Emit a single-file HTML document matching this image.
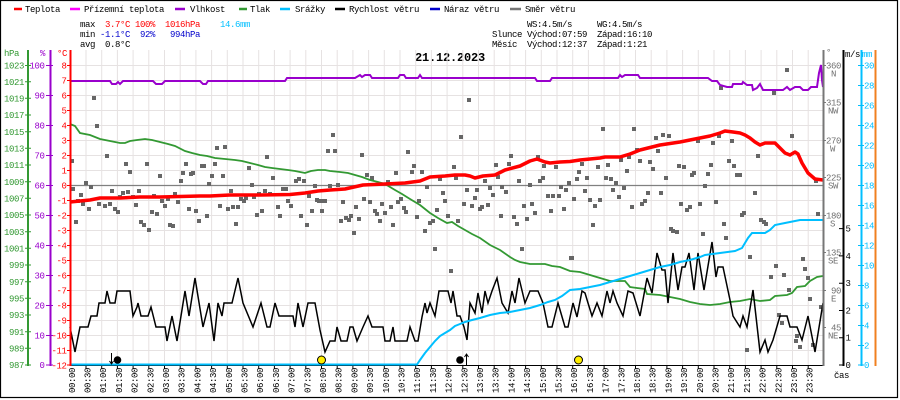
<!DOCTYPE html>
<html><head><meta charset="utf-8"><style>
html,body{margin:0;padding:0;background:#fff;}
svg{display:block;}
text{font-family:"Liberation Mono",monospace;font-size:9px;letter-spacing:-0.4px;}
</style></head><body>
<svg width="900" height="400" viewBox="0 0 900 400" xmlns="http://www.w3.org/2000/svg">
<rect x="0" y="0" width="900" height="400" fill="#fff"/>
<rect x="0.5" y="0.5" width="897" height="397" fill="none" stroke="#000" stroke-width="1.2"/>

<!-- legend -->
<g stroke-width="2.5">
<line x1="14" y1="9" x2="22" y2="9" stroke="#f00"/>
<line x1="70" y1="9" x2="80" y2="9" stroke="#f0f"/>
<line x1="175" y1="9" x2="185" y2="9" stroke="#9900cc"/>
<line x1="239" y1="9" x2="247" y2="9" stroke="#339933"/>
<line x1="280" y1="9" x2="290" y2="9" stroke="#00bfff"/>
<line x1="335" y1="9" x2="345" y2="9" stroke="#000"/>
<line x1="430" y1="9" x2="440" y2="9" stroke="#0000cc"/>
<line x1="510" y1="9" x2="521" y2="9" stroke="#777"/>
</g>
<g fill="#000">
<text x="25" y="12">Teplota</text>
<text x="84" y="12">Přízemní teplota</text>
<text x="190" y="12">Vlhkost</text>
<text x="250" y="12">Tlak</text>
<text x="295" y="12">Srážky</text>
<text x="349" y="12">Rychlost větru</text>
<text x="444" y="12">Náraz větru</text>
<text x="525" y="12">Směr větru</text>
</g>

<!-- stats -->
<text x="80" y="27">max</text>
<text x="105" y="27" fill="#f00">3.7°C</text>
<text x="135" y="27" fill="#f00">100%</text>
<text x="165" y="27" fill="#f00">1016hPa</text>
<text x="220" y="27" fill="#00bfff">14.6mm</text>
<text x="80" y="37">min</text>
<text x="100" y="37" fill="#0000cc">-1.1°C</text>
<text x="140" y="37" fill="#0000cc">92%</text>
<text x="170" y="37" fill="#0000cc">994hPa</text>
<text x="80" y="47">avg</text>
<text x="105" y="47">0.8°C</text>

<text x="527" y="27">WS:4.5m/s</text>
<text x="597" y="27">WG:4.5m/s</text>
<text x="492" y="37">Slunce</text>
<text x="527" y="37">Východ:07:59</text>
<text x="597" y="37">Západ:16:10</text>
<text x="492" y="47">Měsíc</text>
<text x="527" y="47">Východ:12:37</text>
<text x="597" y="47">Západ:1:21</text>

<text x="415" y="61" style="font-size:12px;font-weight:bold;letter-spacing:-0.2px">21.12.2023</text>

<!-- grid -->
<g stroke="#e6e2e2" stroke-width="1">
<path d="M70 65.5H823M70 80.5H823M70 95.5H823M70 110.5H823M70 125.5H823M70 140.5H823M70 155.5H823M70 170.5H823M70 200.5H823M70 215.5H823M70 230.5H823M70 245.5H823M70 260.5H823M70 275.5H823M70 290.5H823M70 305.5H823M70 320.5H823M70 335.5H823M70 350.5H823"/>
<path d="M86 50V365M101.7 50V365M117.4 50V365M133.1 50V365M148.8 50V365M164.5 50V365M180.2 50V365M195.9 50V365M211.6 50V365M227.3 50V365M243 50V365M258.7 50V365M274.4 50V365M290.1 50V365M305.8 50V365M321.5 50V365M337.2 50V365M352.9 50V365M368.6 50V365M384.3 50V365M400 50V365M415.7 50V365M431.4 50V365M447.1 50V365M462.8 50V365M478.5 50V365M494.2 50V365M509.9 50V365M525.6 50V365M541.3 50V365M557 50V365M572.7 50V365M588.4 50V365M604.1 50V365M619.8 50V365M635.5 50V365M651.2 50V365M666.9 50V365M682.6 50V365M698.3 50V365M714 50V365M729.7 50V365M745.4 50V365M761.1 50V365M776.8 50V365M792.5 50V365M808.2 50V365"/>
</g>
<line x1="70" y1="185.5" x2="823" y2="185.5" stroke="#808080" stroke-width="1.3"/>

<!-- bottom ticks -->
<path d="M86 365V369M101.7 365V369M117.4 365V369M133.1 365V369M148.8 365V369M164.5 365V369M180.2 365V369M195.9 365V369M211.6 365V369M227.3 365V369M243 365V369M258.7 365V369M274.4 365V369M290.1 365V369M305.8 365V369M321.5 365V369M337.2 365V369M352.9 365V369M368.6 365V369M384.3 365V369M400 365V369M415.7 365V369M431.4 365V369M447.1 365V369M462.8 365V369M478.5 365V369M494.2 365V369M509.9 365V369M525.6 365V369M541.3 365V369M557 365V369M572.7 365V369M588.4 365V369M604.1 365V369M619.8 365V369M635.5 365V369M651.2 365V369M666.9 365V369M682.6 365V369M698.3 365V369M714 365V369M729.7 365V369M745.4 365V369M761.1 365V369M776.8 365V369M792.5 365V369M808.2 365V369" stroke="#000" stroke-width="1"/>

<!-- scatter (wind direction) -->
<path stroke="#666" stroke-width="4" stroke-linecap="square" fill="none" d="M94 98h0M97 126h0M107 156h0M126 164h0M130 172h0M147 164h0M160 176h0M181 181h0M186 164h0M183 173h0M191 174h0M193 173h0M202 166h0M204 166h0M212 176h0M215 164h0M217 148h0M225 147h0M223 176h0M209 184h0M72 161h0M73 189h0M76 222h0M81 195h0M86 183h0M91 187h0M83 204h0M89 209h0M78 201h0M99 204h0M105 206h0M110 204h0M112 191h0M115 209h0M118 212h0M120 197h0M123 193h0M128 192h0M133 197h0M136 205h0M139 191h0M141 222h0M144 225h0M149 230h0M152 212h0M157 214h0M154 196h0M162 201h0M165 206h0M168 199h0M170 225h0M173 226h0M175 194h0M178 202h0M189 209h0M196 211h0M199 221h0M207 216h0M220 206h0M228 209h0M233 207h0M236 224h0M238 207h0M231 191h0M241 199h0M244 201h0M246 198h0M249 168h0M252 185h0M254 197h0M257 215h0M259 194h0M262 211h0M265 191h0M267 157h0M270 194h0M273 178h0M278 207h0M280 216h0M283 189h0M286 189h0M288 201h0M291 206h0M296 181h0M299 179h0M304 181h0M301 216h0M307 225h0M309 196h0M312 211h0M315 186h0M317 200h0M319 201h0M322 211h0M325 201h0M328 151h0M330 186h0M333 135h0M328 151h0M335 151h0M362 155h0M367 175h0M372 179h0M396 173h0M408 152h0M414 166h0M412 172h0M422 172h0M427 187h0M440 179h0M454 167h0M456 178h0M461 137h0M469 100h0M443 193h0M445 201h0M448 216h0M419 201h0M417 217h0M430 223h0M425 231h0M433 221h0M435 249h0M437 210h0M451 271h0M458 221h0M464 204h0M467 190h0M472 206h0M475 198h0M477 190h0M480 209h0M482 207h0M485 181h0M488 205h0M490 188h0M493 195h0M496 165h0M498 177h0M501 216h0M502 187h0M506 192h0M509 164h0M511 156h0M514 217h0M517 224h0M519 181h0M522 249h0M524 206h0M527 219h0M530 185h0M532 204h0M535 213h0M538 157h0M540 181h0M543 178h0M544 166h0M548 196h0M551 211h0M553 196h0M556 167h0M559 196h0M561 187h0M564 209h0M566 190h0M569 183h0M571 258h0M574 199h0M577 179h0M579 172h0M322 201h0M325 201h0M330 186h0M338 185h0M341 221h0M343 202h0M346 218h0M349 220h0M351 216h0M354 233h0M356 207h0M359 219h0M364 199h0M370 202h0M372 178h0M375 211h0M377 214h0M380 221h0M382 204h0M385 213h0M388 182h0M391 207h0M393 225h0M398 202h0M401 199h0M404 208h0M406 212h0M572 258h0M582 164h0M585 191h0M587 178h0M590 200h0M593 225h0M595 206h0M598 167h0M600 200h0M603 129h0M606 178h0M608 165h0M611 179h0M613 190h0M616 183h0M619 197h0M621 160h0M624 188h0M627 171h0M629 157h0M632 207h0M634 129h0M637 150h0M640 161h0M642 204h0M645 201h0M648 193h0M650 162h0M653 169h0M656 138h0M658 151h0M661 193h0M663 135h0M666 178h0M669 136h0M671 229h0M673 231h0M677 232h0M679 166h0M681 204h0M684 167h0M687 210h0M690 207h0M692 175h0M694 173h0M698 141h0M700 204h0M703 234h0M705 186h0M708 174h0M711 165h0M713 143h0M716 202h0M719 136h0M724 224h0M726 238h0M729 161h0M732 141h0M734 166h0M737 175h0M740 175h0M742 215h0M744 213h0M747 350h0M750 257h0M755 193h0M758 156h0M761 220h0M764 222h0M766 224h0M771 277h0M774 93h0M776 266h0M779 315h0M782 323h0M784 275h0M787 70h0M789 290h0M792 136h0M796 341h0M797 336h0M800 347h0M803 259h0M805 269h0M808 278h0M810 299h0M813 345h0M816 181h0M818 214h0M821 307h0M721 88h0"/>

<!-- pressure -->
<polyline fill="none" stroke="#339933" stroke-width="1.8" points="70,124 75,126 80,133 90,135 100,139 110,141 115,142 120,143 125,143 130,141 137,140 145,139 152,140 160,142 168,144 175,146 185,151 192,153 200,155 207,156 215,158 225,159 235,160 242,161 250,163 258,165 265,167 272,168 280,169 288,170 295,171 300,172 305,173 311,171 318,170 325,170 330,171 340,172 348,173 355,175 362,177 370,180 378,182 385,184 390,187 395,190 402,194 410,199 415,202 420,205 425,209 430,213 438,218 447,223 452,222 458,226 465,230 472,234 480,238 490,245 500,250 510,257 515,260 520,262 530,264 545,264 552,266 560,267 570,271 580,272 590,275 600,278 610,281 625,281 630,287 637,288 645,289 647,294 660,295 670,297 680,299 690,302 700,304 710,305 720,304 730,302 740,301 750,299 760,301 770,300 775,296 787,295 792,293 797,287 805,286 810,281 817,277 823,276"/>

<!-- humidity -->
<polyline fill="none" stroke="#9900cc" stroke-width="2" points="70,81 110,81 112,84 116,84 118,82 120,84 123,81 153,81 156,84 162,84 165,81 200,81 203,84 206,84 208,81 285,81 287,78 355,78 360,75 362,77 365,75 370,75 372,78 398,78 400,75 404,75 406,78 418,78 420,75 422,78 535,78 537,81 550,81 552,78 618,78 620,75 622,77 625,75 638,75 640,78 708,78 712,81 717,81 720,85 727,87 732,87 733,84 742,84 743,82 747,85 752,85 753,90 757,88 760,84 763,90 783,90 787,87 790,90 795,87 800,87 803,90 808,90 811,87 817,87 819,73 821,65 822,80 823,87"/>

<!-- temperature -->
<polyline fill="none" stroke="#f00" stroke-width="3.5" stroke-linejoin="round" points="70,202 80,201 90,200 100,198 120,198 140,197 160,197 180,196.5 200,196 210,196 230,195 260,195 290,194.5 305,193 318,191 330,190 345,189 363,185 385,184 405,183 420,181 430,177 445,176 455,175 465,175 470,176 475,178 483,176 495,175 505,170 520,166 530,161 537,159 545,162 550,163 560,162 570,161.5 580,160 600,158 605,157 620,157 630,154 640,150 660,145 680,142 690,140 700,138 710,136 720,133 725,131 733,132 740,133 745,135 750,138 755,142 760,145 765,143 775,143 780,148 785,153 790,155 795,152 798,154 802,163 808,173 815,179 823,180"/>

<!-- wind speed -->
<polyline fill="none" stroke="#000" stroke-width="1.5" points="70,327 75,352 80,327 88,327 91,316 97,316 99,303 105,303 107,291 110,303 115,303 117,291 130,291 133,316 137,307 138,303 141,316 148,316 151,307 156,327 165,327 167,341 172,316 177,341 185,291 189,316 195,278 203,327 209,303 214,341 218,303 222,316 224,303 232,303 238,278 243,303 253,327 261,303 267,327 270,327 275,303 279,316 293,316 295,327 298,303 303,327 308,303 315,303 320,330 325,352 330,341 335,341 337,327 341,341 347,341 350,327 353,327 357,341 363,327 368,316 372,327 383,327 385,341 390,341 393,327 395,341 407,341 410,327 415,341 418,341 422,317 425,303 427,313 430,303 435,316 439,291 448,291 451,303 453,291 457,316 460,316 464,327 467,340 470,303 475,313 478,293 482,313 485,291 488,303 492,291 497,278 502,303 508,313 512,291 515,303 519,278 525,303 530,291 538,291 543,303 548,327 552,327 558,303 565,327 568,327 573,303 577,317 582,291 585,293 588,303 592,316 597,303 602,316 607,291 610,303 613,291 617,303 623,316 628,291 633,293 640,316 647,278 652,293 657,253 662,270 665,270 668,303 673,253 678,290 682,267 685,267 689,253 694,290 698,253 704,290 712,242 716,277 718,267 723,267 730,300 733,316 740,327 743,316 747,327 753,290 760,352 765,340 768,352 773,340 780,316 787,316 790,327 797,327 802,340 808,316 815,352 823,303"/>

<!-- bottom axis & rain -->
<line x1="70" y1="365.5" x2="823" y2="365.5" stroke="#000" stroke-width="1"/>
<polyline fill="none" stroke="#00bfff" stroke-width="2" points="70,364.5 417,364.5 420,360 425,353 430,347 435,341 440,336 445,333 450,330 455,326 460,324 465,322 472,320 480,318 490,315 500,313 510,312 520,310 530,308 540,305 548,302 555,300 562,296 570,290 580,289 590,287 600,285 610,282 620,279 630,276 640,273 650,270 660,267 670,265 680,262 690,260 700,257 705,255 720,253 735,251 742,248 748,238 752,233 765,233 770,230 775,225 785,223 790,222 800,220 823,220"/>

<!-- symbols -->
<circle cx="117.5" cy="360" r="3.8" fill="#000"/>
<path d="M111.5 353V364M109.5 361L111.5 364L113.5 361" stroke="#000" stroke-width="1" fill="none"/>
<circle cx="321.5" cy="360" r="4" fill="#ffee00" stroke="#000" stroke-width="1"/>
<circle cx="460" cy="360" r="3.8" fill="#000"/>
<path d="M466.5 365V354M464.5 357L466.5 354L468.5 357" stroke="#000" stroke-width="1" fill="none"/>
<circle cx="578.5" cy="360" r="4" fill="#ffee00" stroke="#000" stroke-width="1"/>

<!-- left axes -->
<g stroke-width="2">
<line x1="28" y1="50" x2="28" y2="366" stroke="#339933"/>
<line x1="50.5" y1="50" x2="50.5" y2="366" stroke="#9900cc"/>
<line x1="70.5" y1="50" x2="70.5" y2="366" stroke="#f00"/>
</g>
<path stroke="#339933" stroke-width="1" d="M25 65.5h6M25 81.7h6M25 98.3h6M25 115h6M25 131.7h6M25 148.3h6M25 165h6M25 181.7h6M25 198.3h6M25 215h6M25 231.7h6M25 248.3h6M25 265h6M25 281.7h6M25 298.3h6M25 315h6M25 331.7h6M25 348.3h6M25 365h6"/>
<path stroke="#9900cc" stroke-width="1" d="M46 65.5h7M46 95.5h7M46 125.5h7M46 155.5h7M46 185.5h7M46 215.5h7M46 245.5h7M46 275.5h7M46 305.5h7M46 335.5h7M46 365h7"/>
<path stroke="#f00" stroke-width="1" d="M67 65.5h3M67 80.5h3M67 95.5h3M67 110.5h3M67 125.5h3M67 140.5h3M67 155.5h3M67 170.5h3M67 185.5h3M67 200.5h3M67 215.5h3M67 230.5h3M67 245.5h3M67 260.5h3M67 275.5h3M67 290.5h3M67 305.5h3M67 320.5h3M67 335.5h3M67 350.5h3M67 365h3"/>

<g fill="#339933" text-anchor="end">
<text x="24" y="68.5">1023</text><text x="24" y="85">1021</text><text x="24" y="101.5">1019</text><text x="24" y="118">1017</text><text x="24" y="135">1015</text><text x="24" y="151.5">1013</text><text x="24" y="168">1011</text><text x="24" y="185">1009</text><text x="24" y="201.5">1007</text><text x="24" y="218">1005</text><text x="24" y="235">1003</text><text x="24" y="251.5">1001</text><text x="24" y="268">999</text><text x="24" y="285">997</text><text x="24" y="301.5">995</text><text x="24" y="318">993</text><text x="24" y="335">991</text><text x="24" y="351.5">989</text><text x="24" y="368">987</text>
</g>
<text x="4" y="56" fill="#339933">hPa</text>
<g fill="#9900cc" text-anchor="end">
<text x="44.5" y="68.5">100</text><text x="44.5" y="98.5">90</text><text x="44.5" y="128.5">80</text><text x="44.5" y="158.5">70</text><text x="44.5" y="188.5">60</text><text x="44.5" y="218.5">50</text><text x="44.5" y="248.5">40</text><text x="44.5" y="278.5">30</text><text x="44.5" y="308.5">20</text><text x="44.5" y="338.5">10</text><text x="44.5" y="368">0</text>
</g>
<text x="40" y="56" fill="#9900cc">%</text>
<g fill="#f00" text-anchor="end">
<text x="66.5" y="68.5">8</text><text x="66.5" y="83.5">7</text><text x="66.5" y="98.5">6</text><text x="66.5" y="113.5">5</text><text x="66.5" y="128.5">4</text><text x="66.5" y="143.5">3</text><text x="66.5" y="158.5">2</text><text x="66.5" y="173.5">1</text><text x="66.5" y="188.5">0</text><text x="66.5" y="203.5">-1</text><text x="66.5" y="218.5">-2</text><text x="66.5" y="233.5">-3</text><text x="66.5" y="248.5">-4</text><text x="66.5" y="263.5">-5</text><text x="66.5" y="278.5">-6</text><text x="66.5" y="293.5">-7</text><text x="66.5" y="308.5">-8</text><text x="66.5" y="323.5">-9</text><text x="66.5" y="338.5">-10</text><text x="66.5" y="353.5">-11</text><text x="66.5" y="368.5">-12</text>
</g>
<text x="57" y="56" fill="#f00">°C</text>

<!-- right axes -->
<g stroke-width="2">
<line x1="823.5" y1="50" x2="823.5" y2="366" stroke="#777"/>
<line x1="843.5" y1="50" x2="843.5" y2="366" stroke="#000"/>
<line x1="861.5" y1="50" x2="861.5" y2="366" stroke="#00bfff"/>
<line x1="875.5" y1="50" x2="875.5" y2="366" stroke="#f08020"/>
</g>
<path stroke="#777" stroke-width="1" d="M823 65.5h3M823 102.5h3M823 140.5h3M823 177.5h3M823 215.5h3M823 252.5h3M823 290.5h3M823 327.5h3"/>
<g fill="#707070">
<text x="826" y="55">°</text>
<text x="826" y="68.5">360</text><text x="831" y="76.5">N</text>
<text x="826" y="105.5">315</text><text x="828" y="113.5">NW</text>
<text x="826" y="143.5">270</text><text x="830" y="151.5">W</text>
<text x="826" y="180.5">225</text><text x="828" y="188.5">SW</text>
<text x="826" y="218.5">180</text><text x="830" y="226.5">S</text>
<text x="826" y="255.5">135</text><text x="828" y="263.5">SE</text>
<text x="831" y="293.5">90</text><text x="831" y="301.5">E</text>
<text x="831" y="330.5">45</text><text x="828" y="338.5">NE</text>
</g>
<path stroke="#000" stroke-width="1" d="M839 365h5M839 337.7h5M839 310.5h5M839 283.2h5M839 255.9h5M839 228.6h5"/>
<g fill="#000">
<text x="845" y="57">m/s</text>
<text x="845.5" y="368">0</text><text x="845.5" y="340.7">1</text><text x="845.5" y="313.5">2</text><text x="845.5" y="286.2">3</text><text x="845.5" y="258.9">4</text><text x="845.5" y="231.6">5</text>
<text x="834" y="378">čas</text>
</g>
<path stroke="#00bfff" stroke-width="1" d="M858 65.5h6M858 85.5h6M858 105.5h6M858 125.5h6M858 145.5h6M858 165.5h6M858 185.5h6M858 205.5h6M858 225.5h6M858 245.5h6M858 265.5h6M858 285.5h6M858 305.5h6M858 325.5h6M858 345.5h6M858 365h6"/>
<g fill="#00bfff">
<text x="862" y="57">mm</text>
<text x="864" y="68.5">30</text><text x="864" y="88.5">28</text><text x="864" y="108.5">26</text><text x="864" y="128.5">24</text><text x="864" y="148.5">22</text><text x="864" y="168.5">20</text><text x="864" y="188.5">18</text><text x="864" y="208.5">16</text><text x="864" y="228.5">14</text><text x="864" y="248.5">12</text><text x="864" y="268.5">10</text><text x="864" y="288.5">8</text><text x="864" y="308.5">6</text><text x="864" y="328.5">4</text><text x="864" y="348.5">2</text><text x="864" y="368">0</text>
</g>

<!-- time labels -->
<g fill="#000">
<text transform="translate(74.8,393) rotate(-90)">00:00</text>
<text transform="translate(90.5,393) rotate(-90)">00:30</text>
<text transform="translate(106.2,393) rotate(-90)">01:00</text>
<text transform="translate(121.9,393) rotate(-90)">01:30</text>
<text transform="translate(137.6,393) rotate(-90)">02:00</text>
<text transform="translate(153.3,393) rotate(-90)">02:30</text>
<text transform="translate(169,393) rotate(-90)">03:00</text>
<text transform="translate(184.7,393) rotate(-90)">03:30</text>
<text transform="translate(200.4,393) rotate(-90)">04:00</text>
<text transform="translate(216.1,393) rotate(-90)">04:30</text>
<text transform="translate(231.8,393) rotate(-90)">05:00</text>
<text transform="translate(247.5,393) rotate(-90)">05:30</text>
<text transform="translate(263.2,393) rotate(-90)">06:00</text>
<text transform="translate(278.9,393) rotate(-90)">06:30</text>
<text transform="translate(294.6,393) rotate(-90)">07:00</text>
<text transform="translate(310.3,393) rotate(-90)">07:30</text>
<text transform="translate(326,393) rotate(-90)">08:00</text>
<text transform="translate(341.7,393) rotate(-90)">08:30</text>
<text transform="translate(357.4,393) rotate(-90)">09:00</text>
<text transform="translate(373.1,393) rotate(-90)">09:30</text>
<text transform="translate(388.8,393) rotate(-90)">10:00</text>
<text transform="translate(404.5,393) rotate(-90)">10:30</text>
<text transform="translate(420.2,393) rotate(-90)">11:00</text>
<text transform="translate(435.9,393) rotate(-90)">11:30</text>
<text transform="translate(451.6,393) rotate(-90)">12:00</text>
<text transform="translate(467.3,393) rotate(-90)">12:30</text>
<text transform="translate(483,393) rotate(-90)">13:00</text>
<text transform="translate(498.7,393) rotate(-90)">13:30</text>
<text transform="translate(514.4,393) rotate(-90)">14:00</text>
<text transform="translate(530.1,393) rotate(-90)">14:30</text>
<text transform="translate(545.8,393) rotate(-90)">15:00</text>
<text transform="translate(561.5,393) rotate(-90)">15:30</text>
<text transform="translate(577.2,393) rotate(-90)">16:00</text>
<text transform="translate(592.9,393) rotate(-90)">16:30</text>
<text transform="translate(608.6,393) rotate(-90)">17:00</text>
<text transform="translate(624.3,393) rotate(-90)">17:30</text>
<text transform="translate(640,393) rotate(-90)">18:00</text>
<text transform="translate(655.7,393) rotate(-90)">18:30</text>
<text transform="translate(671.4,393) rotate(-90)">19:00</text>
<text transform="translate(687.1,393) rotate(-90)">19:30</text>
<text transform="translate(702.8,393) rotate(-90)">20:00</text>
<text transform="translate(718.5,393) rotate(-90)">20:30</text>
<text transform="translate(734.2,393) rotate(-90)">21:00</text>
<text transform="translate(749.9,393) rotate(-90)">21:30</text>
<text transform="translate(765.6,393) rotate(-90)">22:00</text>
<text transform="translate(781.3,393) rotate(-90)">22:30</text>
<text transform="translate(797,393) rotate(-90)">23:00</text>
<text transform="translate(812.7,393) rotate(-90)">23:30</text>
</g>
</svg>
</body></html>
